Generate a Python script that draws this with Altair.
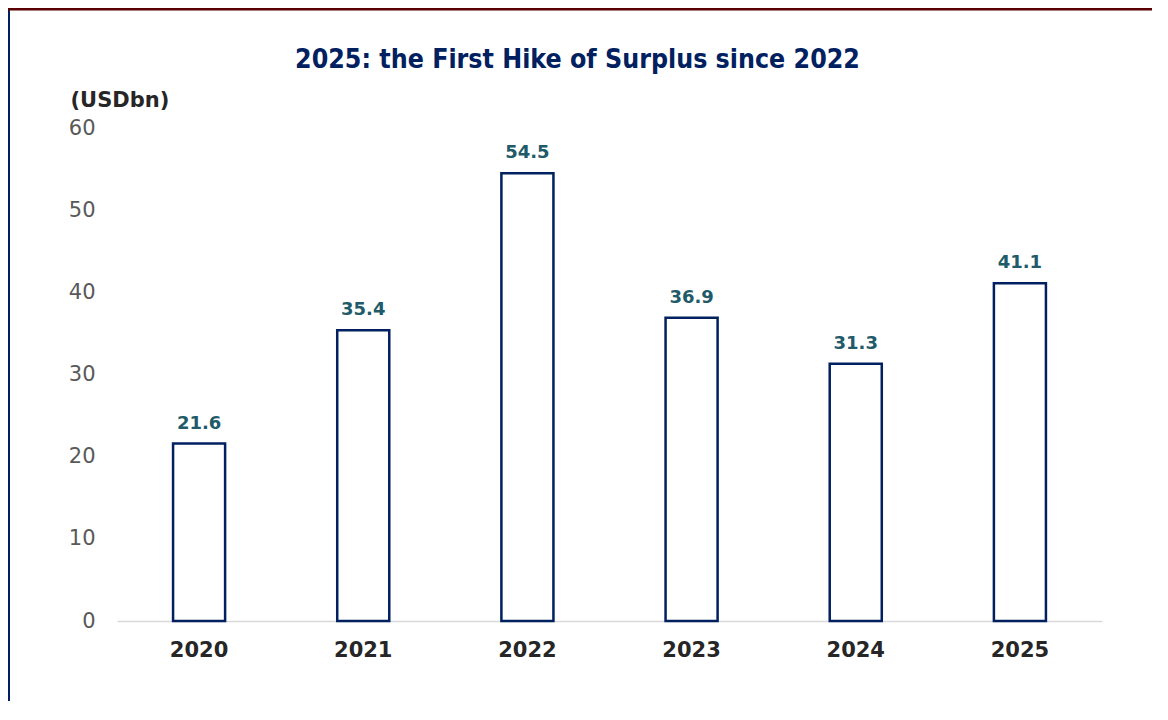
import altair as alt
import pandas as pd

years = ["2020", "2021", "2022", "2023", "2024", "2025"]
surplus = [21.6, 35.4, 54.5, 36.9, 31.3, 41.1]
y_ticks = [0, 10, 20, 30, 40, 50, 60]

df = pd.DataFrame({"year": years, "value": surplus})

NAVY = "#002060"

x_enc = alt.X(
    "year:N",
    sort=years,
    scale=alt.Scale(paddingInner=0.683, paddingOuter=0.3415),
    axis=alt.Axis(
        title=None,
        labelAngle=0,
        labelFont="DejaVu Sans",
        labelFontSize=21,
        labelFontWeight="bold",
        labelColor="#262626",
        labelPadding=18,
        ticks=False,
        domain=True,
        domainColor="#D9D9D9",
        domainWidth=1.5,
    ),
)

y_enc = alt.Y(
    "value:Q",
    scale=alt.Scale(domain=[0, 60], nice=False),
    axis=alt.Axis(
        values=y_ticks,
        grid=False,
        domain=False,
        ticks=False,
        labelFont="DejaVu Sans",
        labelFontSize=21,
        labelColor="#595959",
        labelPadding=22,
        title="(USDbn)",
        titleAngle=0,
        titleX=-47,
        titleY=-22,
        titleAlign="left",
        titleBaseline="alphabetic",
        titleFont="DejaVu Sans",
        titleFontSize=21,
        titleFontWeight="bold",
        titleColor="#262626",
    ),
)

base = alt.Chart(df)

bars = base.mark_bar(fill="white", stroke=NAVY, strokeWidth=2.5).encode(x=x_enc, y=y_enc)

labels = base.mark_text(
    baseline="alphabetic",
    dy=-15,
    font="DejaVu Sans",
    fontSize=18,
    fontWeight="bold",
    color="#215A69",
).encode(x=alt.X("year:N", sort=years), y="value:Q", text=alt.Text("value:Q", format=".1f"))

frame_df = pd.DataFrame({"k": [0]})
left_line = alt.Chart(frame_df).mark_rule(color=NAVY, strokeWidth=2).encode(
    x=alt.value(-108), y=alt.value(-120), y2=alt.value(600)
)
top_line = alt.Chart(frame_df).mark_rule(color="#5A0000", strokeWidth=3).encode(
    x=alt.value(-109), x2=alt.value(1060), y=alt.value(-119)
)

chart = (
    alt.layer(bars, labels, left_line, top_line)
    .properties(
        width=985,
        height=493,
        background="white",
        autosize=alt.AutoSizeParams(type="none"),
        padding={"left": 109, "top": 120, "right": 50, "bottom": 80},
        title=alt.TitleParams(
            "2025: the First Hike of Surplus since 2022",
            font="DejaVu Sans Condensed, DejaVu Sans",
            fontSize=26.5,
            fontWeight="bold",
            color=NAVY,
            anchor="middle",
            baseline="alphabetic",
            offset=-87.5,
            dx=-32,
        ),
    )
    .configure_view(strokeWidth=0)
)

chart.save("out.html", embed_options={"renderer": "svg", "actions": False})
